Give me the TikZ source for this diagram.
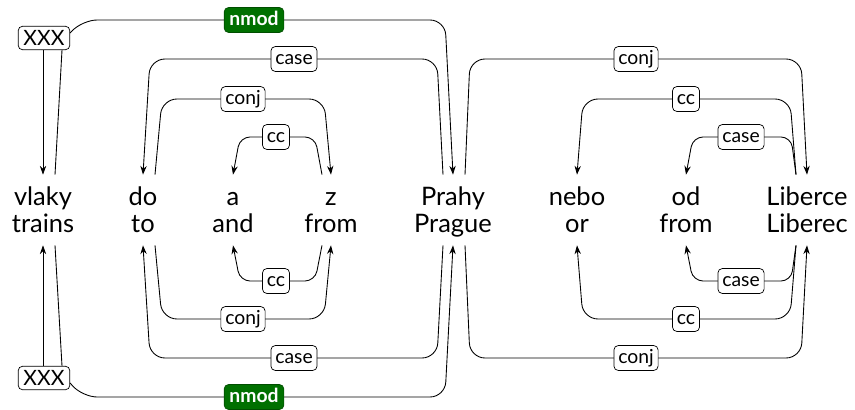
\documentclass[tikz,border=0pt]{standalone}
\usepackage{fontspec}
\setmainfont{Lato}
\usetikzlibrary{positioning,calc,arrows.meta}
\definecolor{depgreen}{RGB}{0,112,0}

\begin{document}
\begin{tikzpicture}[x=0.02cm, y=-0.02cm,
    word/.style={anchor=base, inner sep=0pt, text height=0.6cm, text depth=0.26cm, font=\fontsize{14.5}{17}\selectfont},
    lab/.style={draw, fill=white, rounded corners=2.5pt, inner xsep=2.5pt, inner ysep=2pt, text height=8pt, text depth=2.2pt, font=\fontsize{11}{13}\selectfont},
    root/.style={lab, font=\fontsize{12}{14}\selectfont, inner xsep=3pt, text height=8.8pt, text depth=0.6pt},
    rel/.style={lab, draw=depgreen!70!black, fill=depgreen, text=white, inner xsep=3pt, font=\fontsize{11}{13}\selectfont\bfseries},
    dep/.style={draw, line width=0.5pt, rounded corners=0.3cm},
    small/.style={rounded corners=0.2cm},
    >={Stealth[length=5pt,width=3.6pt]}]
  \useasboundingbox (0,0) rectangle (855,409);

  % Czech words (top row) and glosses (bottom row)
  \node[word] (vlaky)   at (43,205)  {vlaky};
  \node[word] (do)      at (143,205) {do};
  \node[word] (a)       at (233,205) {a};
  \node[word] (z)       at (331,205) {z};
  \node[word] (Prahy)   at (453,205) {Prahy};
  \node[word] (nebo)    at (577,205) {nebo};
  \node[word] (od)      at (686,205) {od};
  \node[word] (Liberce) at (807,205) {Liberce};

  \node[word] (trains)  at (43,232)  {trains};
  \node[word] (to)      at (143,232) {to};
  \node[word] (and)     at (233,232) {and};
  \node[word] (from)    at (331,232) {from};
  \node[word] (Prague)  at (453,232) {Prague};
  \node[word] (or)      at (577,232) {or};
  \node[word] (fromB)   at (686,232) {from};
  \node[word] (Liberec) at (807,232) {Liberec};

  % root boxes
  \node[root] (xxxA) at (44,38)  {XXX};
  \node[root] (xxxB) at (44,378) {XXX};
  \draw[dep,->] ($(xxxA.south)+(-1,0)$) -- (vlaky.north);
  \draw[dep] ($(vlaky.north)+(12,0)$) -- ($(xxxA.south)+(18,0)$);
  \draw[dep,->] ($(xxxB.north)+(-1,0)$) -- (trains.south);
  \draw[dep] ($(trains.south)+(12,0)$) -- ($(xxxB.north)+(18,0)$);

  % upper tree
  \coordinate (yNmodA) at (0,20);
  \coordinate (yCaseA) at (0,59);
  \coordinate (yConjA) at (0,99);
  \coordinate (yCcA)   at (0,137);
  \draw[dep,->] ($(xxxA.east)+(0,-5)$) -- ($(xxxA.east |- yNmodA)+(12,0)$) -- ($(Prahy.north |- yNmodA)+(-8,0)$) -- (Prahy.north);
  \draw[dep,->] ($(Prahy.north)+(-10,0)$) -- ($(Prahy.north |- yCaseA)+(-16,0)$) -- ($(do.north |- yCaseA)+(7,0)$) -- (do.north);
  \draw[dep,->] ($(do.north)+(12,0)$) -- ($(do.north |- yConjA)+(19,0)$) -- ($(z.north |- yConjA)+(-7,0)$) -- (z.north);
  \draw[dep,small,->] ($(z.north)+(-9,0)$) -- ($(z.north |- yCcA)+(-16,0)$) -- ($(a.north |- yCcA)+(7,0)$) -- (a.north);
  \draw[dep,->] ($(Prahy.north)+(12,0)$) -- ($(Prahy.north |- yCaseA)+(17,0)$) -- ($(Liberce.north |- yCaseA)+(-6,0)$) -- (Liberce.north);
  \draw[dep,->] ($(Liberce.north)+(-11,0)$) -- ($(Liberce.north |- yConjA)+(-17,0)$) -- ($(nebo.north |- yConjA)+(6,0)$) -- (nebo.north);
  \draw[dep,small,->] ($(Liberce.north)+(-11,0)$) -- ($(Liberce.north |- yCcA)+(-16,0)$) -- ($(od.north |- yCcA)+(7,0)$) -- (od.north);

  % lower tree
  \coordinate (yNmodB) at (0,397);
  \coordinate (yCaseB) at (0,358);
  \coordinate (yConjB) at (0,319);
  \coordinate (yCcB)   at (0,281);
  \draw[dep,->] ($(xxxB.east)+(0,5)$) -- ($(xxxB.east |- yNmodB)+(12,0)$) -- ($(Prague.south |- yNmodB)+(-8,0)$) -- (Prague.south);
  \draw[dep,->] ($(Prague.south)+(-10,0)$) -- ($(Prague.south |- yCaseB)+(-16,0)$) -- ($(to.south |- yCaseB)+(7,0)$) -- (to.south);
  \draw[dep,->] ($(to.south)+(12,0)$) -- ($(to.south |- yConjB)+(19,0)$) -- ($(from.south |- yConjB)+(-7,0)$) -- (from.south);
  \draw[dep,small,->] ($(from.south)+(-9,0)$) -- ($(from.south |- yCcB)+(-16,0)$) -- ($(and.south |- yCcB)+(7,0)$) -- (and.south);
  \draw[dep,->] ($(Prague.south)+(12,0)$) -- ($(Prague.south |- yCaseB)+(17,0)$) -- ($(Liberec.south |- yCaseB)+(-6,0)$) -- (Liberec.south);
  \draw[dep,->] ($(Liberec.south)+(-11,0)$) -- ($(Liberec.south |- yConjB)+(-17,0)$) -- ($(or.south |- yConjB)+(6,0)$) -- (or.south);
  \draw[dep,small,->] ($(Liberec.south)+(-11,0)$) -- ($(Liberec.south |- yCcB)+(-16,0)$) -- ($(fromB.south |- yCcB)+(7,0)$) -- (fromB.south);

  % relation labels
  \node[rel] (nmodA) at (254,20)  {nmod};
  \node[lab] (caseA) at (294,59)  {case};
  \node[lab] (conjA) at (243,99)  {conj};
  \node[lab] (ccA)   at (276,137) {cc};
  \node[lab] (conjC) at (636,59)  {conj};
  \node[lab] (ccC)   at (686,99)  {cc};
  \node[lab] (caseC) at (741,137) {case};

  \node[rel] (nmodB) at (254,397) {nmod};
  \node[lab] (caseB) at (294,358) {case};
  \node[lab] (conjB) at (243,319) {conj};
  \node[lab] (ccB)   at (276,281) {cc};
  \node[lab] (conjD) at (636,358) {conj};
  \node[lab] (ccD)   at (686,319) {cc};
  \node[lab] (caseD) at (741,281) {case};
\end{tikzpicture}
\end{document}
